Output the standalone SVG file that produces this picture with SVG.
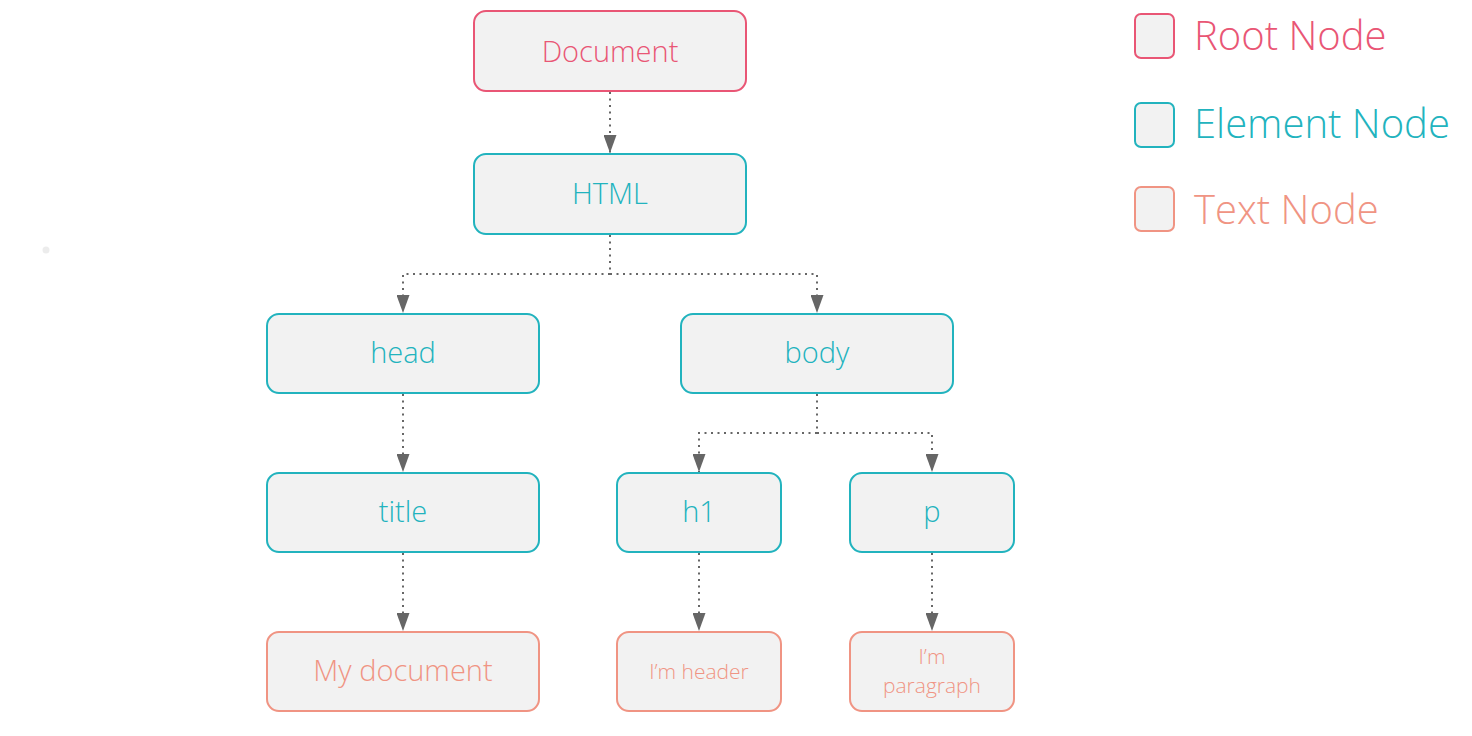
<svg xmlns="http://www.w3.org/2000/svg" width="1472" height="736" viewBox="0 0 1472 736">
<style>
.box{fill:#f2f2f2;stroke-width:2}
.root{stroke:#e95675}
.elem{stroke:#22b3be}
.txt{stroke:#f09483}
.t{font-family:"Open Sans","Liberation Sans",sans-serif;font-weight:300;text-anchor:middle;font-size:29px}
.troot{fill:#e95675}
.telem{fill:#22b3be}
.ttxt{fill:#f09483}
.s{font-size:21px}
.leg{font-family:"Open Sans","Liberation Sans",sans-serif;font-weight:300;font-size:40px}
.c{fill:none;stroke:#666;stroke-width:2;stroke-dasharray:2 4.5}
</style>
<defs>
<marker id="ah" viewBox="0 0 18 13" refX="18" refY="6.5" markerWidth="18" markerHeight="13" markerUnits="userSpaceOnUse" orient="auto">
<path d="M0,0 L18,6.5 L0,13 z" fill="#666"/>
</marker>
</defs>
<rect width="1472" height="736" fill="#fff"/>
<circle cx="46" cy="250" r="3.5" fill="#ececec"/>
<g id="connectors">
<path class="c" d="M610,92 V153" marker-end="url(#ah)"/>
<path class="c" d="M610,235 V274 H403 V313" marker-end="url(#ah)"/>
<path class="c" d="M610,274 H817 V313" marker-end="url(#ah)"/>
<path class="c" d="M403,394 V472" marker-end="url(#ah)"/>
<path class="c" d="M817,394 V433 H699 V472" marker-end="url(#ah)"/>
<path class="c" d="M817,433 H932 V472" marker-end="url(#ah)"/>
<path class="c" d="M403,553 V631" marker-end="url(#ah)"/>
<path class="c" d="M699,553 V631" marker-end="url(#ah)"/>
<path class="c" d="M932,553 V631" marker-end="url(#ah)"/>
</g>
<g id="document"><rect class="box root" x="474" y="11" width="272" height="80" rx="12"/><text class="t troot" x="610" y="62">Document</text></g>
<g id="html"><rect class="box elem" x="474" y="154" width="272" height="80" rx="12"/><text class="t telem" x="610" y="204">HTML</text></g>
<g id="head"><rect class="box elem" x="267" y="314" width="272" height="79" rx="12"/><text class="t telem" x="403" y="363">head</text></g>
<g id="body"><rect class="box elem" x="681" y="314" width="272" height="79" rx="12"/><text class="t telem" x="817" y="363">body</text></g>
<g id="title"><rect class="box elem" x="267" y="473" width="272" height="79" rx="12"/><text class="t telem" x="403" y="522">title</text></g>
<g id="h1"><rect class="box elem" x="617" y="473" width="164" height="79" rx="12"/><text class="t telem" x="699" y="522">h1</text></g>
<g id="p"><rect class="box elem" x="850" y="473" width="164" height="79" rx="12"/><text class="t telem" x="932" y="522">p</text></g>
<g id="mydocument"><rect class="box txt" x="267" y="632" width="272" height="79" rx="12"/><text class="t ttxt" x="403" y="681">My document</text></g>
<g id="imheader"><rect class="box txt" x="617" y="632" width="164" height="79" rx="12"/><text class="t ttxt s" x="699" y="679">I’m header</text></g>
<g id="imparagraph"><rect class="box txt" x="850" y="632" width="164" height="79" rx="12"/><text class="t ttxt s" x="932" y="664">I’m</text><text class="t ttxt s" x="932" y="693">paragraph</text></g>
<g id="legend">
<rect class="box root" x="1135" y="14" width="39" height="44" rx="6"/>
<text class="leg troot" x="1194" y="50">Root Node</text>
<rect class="box elem" x="1135" y="103" width="39" height="44" rx="6"/>
<text class="leg telem" x="1194" y="138">Element Node</text>
<rect class="box txt" x="1135" y="187" width="39" height="44" rx="6"/>
<text class="leg ttxt" x="1194" y="224">Text Node</text>
</g>
</svg>
